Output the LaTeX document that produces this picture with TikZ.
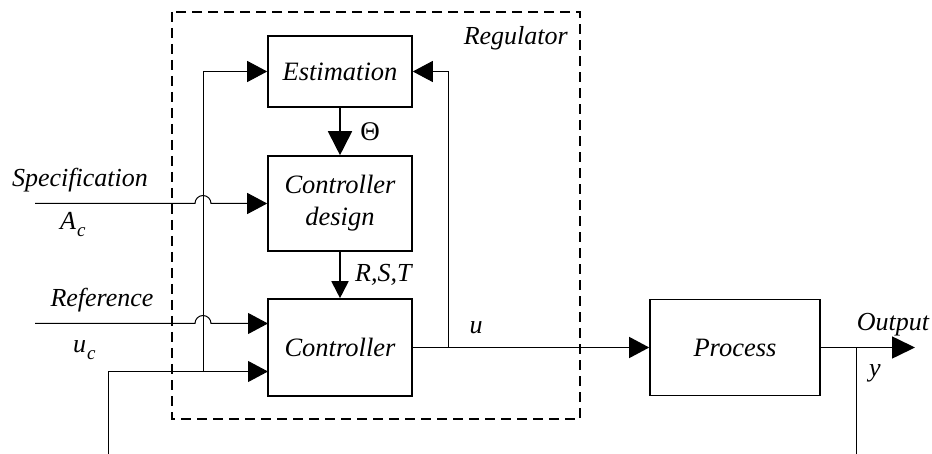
\documentclass[tikz,border=0pt]{standalone}
\usepackage{fontspec}
\setmainfont{Liberation Serif}
\usetikzlibrary{arrows.meta}

\tikzset{
  block/.style={draw, line width=1.6pt, minimum width=144pt, inner sep=0pt,
                font=\fontsize{26.5}{32}\selectfont\itshape, align=center},
  lbl/.style={font=\fontsize{26}{30}\selectfont\itshape, inner sep=0pt},
  sig/.style={line width=1pt},
  thick sig/.style={line width=1.8pt},
  tip/.style={-{Triangle[length=20pt,width=21pt]}},
  region/.style={draw, line width=1.6pt, dash pattern=on 10pt off 6pt}
}

\newcommand{\hopover}{arc[start angle=180,end angle=0,radius=8pt]}

\begin{document}
\begin{tikzpicture}[x=1pt,y=-1pt]
  \useasboundingbox (0,0) rectangle (932,454);

  % regulator boundary
  \draw[region] (172,12) rectangle (580,419);
  \node[lbl, anchor=east] (reglbl) at (568,38) {Regulator};

  % blocks
  \node[block, minimum height=71pt] (est) at (340,71.5) {Estimation};
  \node[block, minimum height=95pt] (des) at (340,203.5) {Controller\\design};
  \node[block, minimum height=97pt] (ctl) at (340,347.5) {Controller};
  \node[block, minimum width=170pt, minimum height=96pt] (proc) at (735,347.5) {Process};

  % internal signals
  \draw[thick sig, -{Triangle[length=24pt,width=24pt]}] (est.south) -- (des.north);
  \node[font=\fontsize{27}{30}\selectfont, inner sep=0pt] (theta) at (370,132) {Θ};
  \draw[thick sig, -{Triangle[length=17pt,width=17pt]}] (des.south) -- (ctl.north);
  \node[lbl, anchor=west] (rst) at (355,275) {R,S,T};

  % control signal u
  \coordinate (uj) at (448,347.5);
  \draw[line width=1.3pt, tip] (ctl.east) -- (proc.west);
  \draw[sig, tip] (uj) |- (est.east);
  \node[lbl] (ulbl) at (476,328) {u};

  % output y
  \coordinate (otip) at (915,347.5);
  \coordinate (yj) at (856,347.5);
  \coordinate (ybot) at (856,454);
  \draw[line width=1.6pt, -{Triangle[length=23pt,width=22pt]}] (proc.east) -- (otip);
  \draw[sig] (yj) -- (ybot);
  \node[lbl] (outlbl) at (893,325) {Output};
  \node[lbl] (ylbl) at (875,373) {y};

  % specification input
  \coordinate (spec) at (35,203.5);
  \draw[sig, tip] (spec) -- (195,203.5) \hopover -- (des.west);
  \node[lbl] (speclbl) at (80,180) {Specification};
  \node[lbl, anchor=west] (aclbl) at (60,225) {A\kern1pt\raisebox{-7pt}{\fontsize{19}{19}\selectfont c}};

  % reference input
  \coordinate (ref) at (35,323.5);
  \coordinate (ctlin1) at (268,323.5);
  \draw[sig, tip] (ref) -- (195,323.5) \hopover -- (ctlin1);
  \node[lbl] (reflbl) at (102,300) {Reference};
  \node[lbl, anchor=west] (uclbl) at (73,350) {u\kern1pt\raisebox{-7pt}{\fontsize{19}{19}\selectfont c}};

  % measured output fed back
  \coordinate (fbbot) at (108,454);
  \coordinate (fbcorner) at (108,371.5);
  \coordinate (ctlin2) at (268,371.5);
  \coordinate (fbj) at (203,371.5);
  \draw[sig, tip] (fbbot) -- (fbcorner) -- (ctlin2);
  \draw[sig, tip] (fbj) |- (est.west);
\end{tikzpicture}
\end{document}
